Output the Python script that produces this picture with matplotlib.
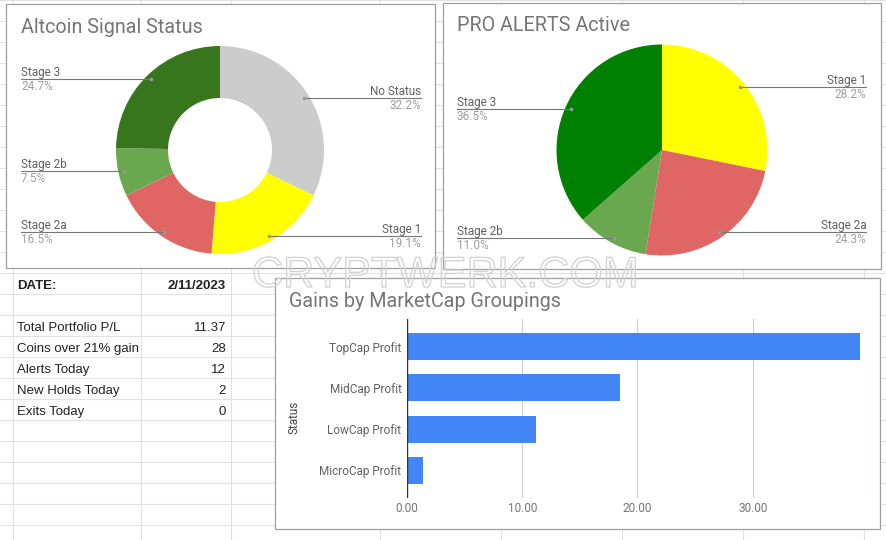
import matplotlib.pyplot as plt
import matplotlib.patheffects as pe
from matplotlib.patches import Rectangle
import numpy as np

plt.rcParams['font.family'] = 'Roboto'

W, H = 887, 540

# --- data ---
signal_labels = ['No Status', 'Stage 1', 'Stage 2a', 'Stage 2b', 'Stage 3']
signal_pct = [32.2, 19.1, 16.5, 7.5, 24.7]
signal_colors = ['#cccccc', '#ffff00', '#e06666', '#6aa84f', '#38761d']

alert_labels = ['Stage 1', 'Stage 2a', 'Stage 2b', 'Stage 3']
alert_pct = [28.2, 24.3, 11.0, 36.5]
alert_colors = ['#ffff00', '#e06666', '#6aa84f', '#008000']

cap_labels = ['TopCap Profit', 'MidCap Profit', 'LowCap Profit', 'MicroCap Profit']
cap_gain = [39.3, 18.5, 11.2, 1.4]
cap_ticks = [0, 10, 20, 30, 40]
cap_tick_labels = ['0.00', '10.00', '20.00', '30.00', '']

date_label, date_value = 'DATE:', '2/11/2023'
stat_names = ['Total Portfolio P/L', 'Coins over 21% gain', 'Alerts Today',
              'New Holds Today', 'Exits Today']
stat_values = ['11.37', '28', '12', '2', '0']


def iy(y):
    # screen rows (top down) -> data y (bottom up)
    return H - y


fig = plt.figure(figsize=(W / 100, H / 100), dpi=100)
bg = fig.add_axes([0, 0, 1, 1])

# spreadsheet grid behind everything
for y in range(0, H + 1, 21):
    bg.axhline(iy(y), color='#e2e2e2', lw=0.8, zorder=0)
for x in [13, 141, 231, 380, 501, 622, 743, 864]:
    bg.axvline(x, color='#e2e2e2', lw=0.8, zorder=0)

# chart cards
for x0, y0, x1, y1 in [(6, 4, 435, 268), (443, 3, 881, 269), (275, 278, 880, 529)]:
    bg.add_patch(Rectangle((x0, iy(y1)), x1 - x0, y1 - y0, fc='white',
                           ec='#9e9e9e', lw=0.9, zorder=1))


def pie_panel(labels, pct, colors, cx, cy, r, hole, left_x, right_x):
    wp = dict(lw=0, zorder=2)
    if hole:
        wp['width'] = r - hole
    wedges, _ = bg.pie(pct, colors=colors, center=(cx, iy(cy)), radius=r,
                       startangle=90, counterclock=False, wedgeprops=wp)
    for w, lab, p in zip(wedges, labels, pct):
        a = np.deg2rad((w.theta1 + w.theta2) / 2)
        dx = cx + 0.95 * r * np.cos(a)
        dy = iy(cy) + 0.95 * r * np.sin(a)
        if np.cos(a) > 0:
            lx, ha = right_x, 'right'
        else:
            lx, ha = left_x, 'left'
        bg.plot([dx, lx], [dy, dy], color='#777777', lw=0.8, zorder=3)
        bg.plot(dx, dy, 'o', ms=2.6, color='#999999', mec='none', zorder=4)
        bg.text(lx, dy + 3, lab, ha=ha, va='baseline', fontsize=8.5,
                color='#616161', zorder=4)
        bg.text(lx, dy - 11, f'{p:.1f}%', ha=ha, va='baseline', fontsize=8.5,
                color='#9e9e9e', zorder=4)


pie_panel(signal_labels, signal_pct, signal_colors, 220, 150, 104, 52, 21, 421)
pie_panel(alert_labels, alert_pct, alert_colors, 662, 150, 105.5, 0, 457, 866.5)

bg.text(21, iy(32.7), 'Altcoin Signal Status', fontsize=14.2, color='#757575',
        va='baseline', zorder=4)
bg.text(457, iy(30.7), 'PRO ALERTS Active', fontsize=14.2, color='#757575',
        va='baseline', zorder=4)
bg.text(289, iy(307), 'Gains by MarketCap Groupings', fontsize=14.2,
        color='#757575', va='baseline', zorder=4)
bg.text(294, iy(417), 'Status', rotation=90, ha='center', va='center',
        fontsize=8.5, color='#444444', zorder=4)

# summary cells
cell = dict(family='Liberation Sans', fontsize=9.5, color='#222222', va='baseline')
bg.text(17, iy(289.3), date_label, fontweight='bold', **cell)
bg.text(226, iy(289.3), date_value, ha='right', fontweight='bold', **cell)
for i, (name, val) in enumerate(zip(stat_names, stat_values)):
    yb = iy(331.3 + 21 * i)
    bg.text(17, yb, name, **cell)
    bg.text(226, yb, val, ha='right', **cell)

bg.set_aspect('auto')
bg.set_xlim(0, W)
bg.set_ylim(0, H)
bg.axis('off')

# bar chart
ax = fig.add_axes([407 / W, (H - 498) / H, (868 - 407) / W, (498 - 319) / H])
ax.set_facecolor('none')
ypos = np.arange(len(cap_labels))
ax.barh(ypos, cap_gain, height=0.65, color='#4285f4', zorder=3)
ax.axvline(0, color='#333333', lw=1, zorder=4)
ax.set_xlim(0, 40)
ax.set_ylim(3.67, -0.67)
ax.set_xticks(cap_ticks, cap_tick_labels)
ax.set_yticks(ypos, cap_labels)
ax.grid(axis='x', color='#cccccc', lw=0.8)
ax.set_axisbelow(True)
ax.tick_params(length=0, labelsize=8.5, labelcolor='#616161')
ax.tick_params(axis='x', pad=3.2, labelcolor='#757575')
ax.tick_params(axis='y', pad=4)
for s in ax.spines.values():
    s.set_visible(False)

# outlined site watermark
fig.text(252 / W, iy(287) / H, 'CRYPTWERK.COM', family='Liberation Sans',
         fontsize=31, color='none', zorder=10,
         path_effects=[pe.Stroke(linewidth=1.0, foreground='#d4d4d4')])

fig.savefig('out.png', dpi=100)
